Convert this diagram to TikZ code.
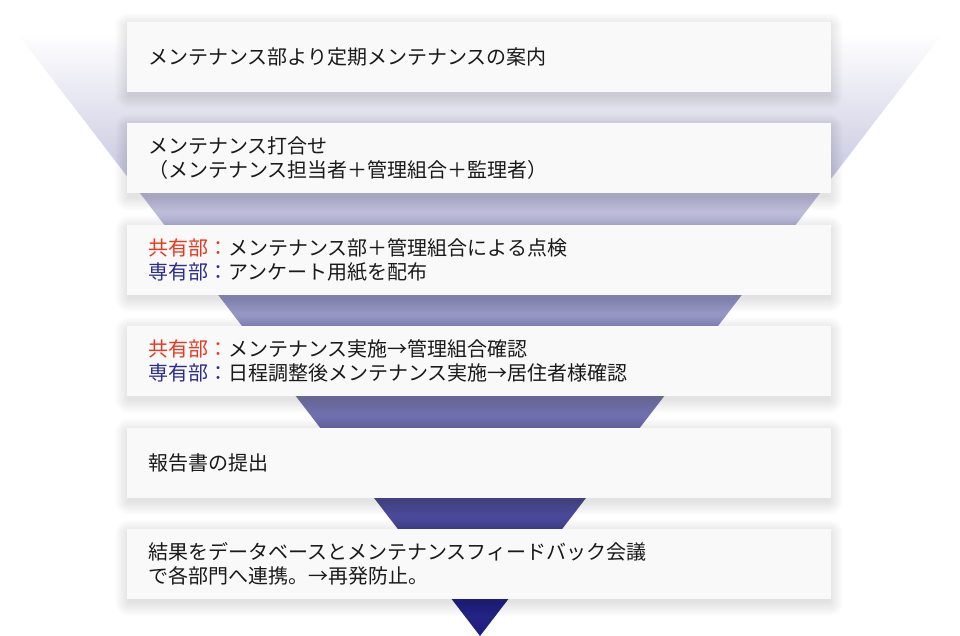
\documentclass[tikz,border=0pt]{standalone}
\usepackage{fontspec}
\setmainfont{Noto Sans CJK JP}
\usepackage{tikz}
\usetikzlibrary{positioning}

\definecolor{funnelbot}{HTML}{1C1C80}
\definecolor{boxfill}{HTML}{F9F9F9}
\definecolor{textcol}{HTML}{1A1A1A}
\definecolor{sharedred}{HTML}{E8381E}
\definecolor{privblue}{HTML}{2D2C8C}

\pgfdeclarelayer{funnel}
\pgfdeclarelayer{shade}
\pgfsetlayers{funnel,shade,main}

\begin{document}
\begin{tikzpicture}[x=1pt,y=1pt,
	stepbox/.style={shape=rectangle, fill=boxfill, text=textcol, minimum height=70pt, text width=662pt, inner xsep=21pt, inner ysep=0pt, align=left, font=\fontsize{20}{24}\selectfont},
	node distance=31pt]
			\useasboundingbox (0,0) rectangle (960,-636);
			
			% funnel behind the steps
			\begin{pgfonlayer}{funnel}
			\coordinate (TL) at (17,-33);
			\coordinate (TR) at (943,-33);
			\coordinate (T) at (480,-636);
			\shade[top color=white, bottom color=funnelbot] (TL) -- (TR) -- (T) -- cycle;
			\end{pgfonlayer}
			
			\node[stepbox] (A) at (479,-57) {メンテナンス部より定期メンテナンスの案内};
			\node[stepbox, below=of A] (B) {メンテナンス打合せ\\（メンテナンス担当者＋管理組合＋監理者）};
			\node[stepbox, below=of B] (C) {\textcolor{sharedred}{共有部：}メンテナンス部＋管理組合による点検\\\textcolor{privblue}{専有部：}アンケート用紙を配布};
			\node[stepbox, below=of C] (D) {\textcolor{sharedred}{共有部：}メンテナンス実施→管理組合確認\\\textcolor{privblue}{専有部：}日程調整後メンテナンス実施→居住者様確認};
			\node[stepbox, below=of D] (E) {報告書の提出};
			\node[stepbox, below=of E] (F) {結果をデータベースとメンテナンスフィードバック会議\\で各部門へ連携。→再発防止。};
			
			% soft shadows
			\begin{pgfonlayer}{shade}
			\foreach \nd in {A,B,C,D,E,F}
				\foreach \k in {1,...,14}
					\fill[black, opacity=0.006, rounded corners=\k pt] ([xshift=-\k pt+2pt, yshift=-\k pt-3pt]\nd.south west) rectangle ([xshift=\k pt-2pt, yshift=\k pt-5pt]\nd.north east);
			\end{pgfonlayer}
		\end{tikzpicture}
\end{document}
